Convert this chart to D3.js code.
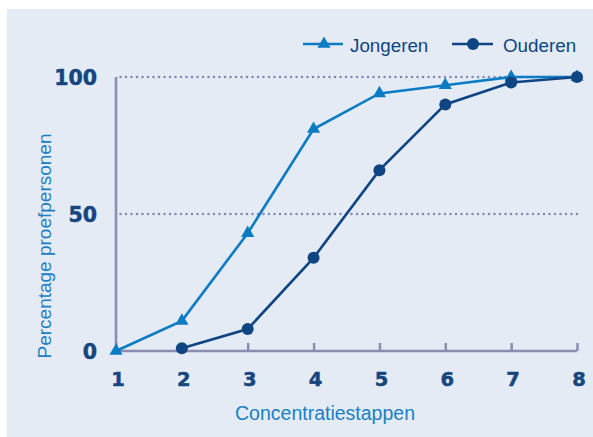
<!DOCTYPE html>
<html><head><meta charset="utf-8">
<script src="https://cdn.jsdelivr.net/npm/d3@7"></script>
<style>body{margin:0;background:#fff}svg{display:block}</style>
</head><body>
<svg id="c" width="593" height="437"></svg>
<script>
const steps = [1,2,3,4,5,6,7,8];
const jongeren = [0, 11, 43, 81, 94, 97, 100, 100];
const ouderenSteps = [2,3,4,5,6,7,8];
const ouderen = [1, 8, 34, 66, 90, 98, 100];
const yTicks = [0, 50, 100];
const gridValues = [50, 100];

const svg = d3.select('#c');
svg.append('rect').attr('x',7).attr('y',9).attr('width',586).attr('height',428).attr('fill','#e4ebf5');

const x = d3.scaleLinear().domain([1,8]).range([116,577]);
const y = d3.scaleLinear().domain([0,100]).range([351,77]);
const axisCol = '#8b8db0', tickCol = '#16467e', light = '#1a80c4';
const cJ = '#0b7cc3', cO = '#0f4582';
const sans = 'Liberation Sans, Arial, sans-serif';
const bold = 'DejaVu Sans, sans-serif';

// grid
svg.selectAll('.grid').data(gridValues).join('line')
  .attr('x1', x(1)+4.5).attr('x2', 578).attr('y1', d=>y(d)).attr('y2', d=>y(d))
  .attr('stroke', '#8587b0').attr('stroke-width',2.5).attr('stroke-dasharray','0,5.5').attr('stroke-linecap','round');

// x axis
const xAxis = d3.axisTop(x).tickValues(steps).tickSize(8).tickFormat('');
const gx = svg.append('g').attr('transform',`translate(0,${y(0)})`).call(xAxis);
gx.select('.domain').attr('stroke', axisCol).attr('stroke-width',2.6).attr('d',`M${x(1)},0H${x(8)}`);
gx.selectAll('.tick line').attr('stroke', axisCol).attr('stroke-width',2.5);

// y axis line
const yAxis = d3.axisLeft(y).tickValues(yTicks).tickSize(0).tickFormat('');
const gy = svg.append('g').attr('transform',`translate(${x(1)},0)`).call(yAxis);
gy.select('.domain').attr('stroke', axisCol).attr('stroke-width',2.6).attr('d',`M0,${y(100)}V${y(0)}`);

// tick labels
svg.selectAll('.xl').data(steps).join('text')
  .attr('x', d=>x(d)+2).attr('y', 386).attr('text-anchor','middle')
  .attr('font-family',bold).attr('font-weight','bold').attr('font-size',19.5)
  .attr('fill', tickCol).attr('stroke',tickCol).attr('stroke-width',0.5).text(d=>d);
svg.selectAll('.yl').data(yTicks).join('text')
  .attr('x', 97).attr('y', d=>y(d)+7.5).attr('text-anchor','end')
  .attr('font-family',bold).attr('font-weight','bold').attr('font-size',20.5)
  .attr('fill', tickCol).attr('stroke',tickCol).attr('stroke-width',0.5).text(d=>d);

// axis titles
svg.append('text').attr('x',325).attr('y',420).attr('text-anchor','middle')
  .attr('font-family',sans).attr('font-size',19.5).attr('fill',light)
  .text('Concentratiestappen');
svg.append('text').attr('transform','translate(51,246) rotate(-90)').attr('text-anchor','middle')
  .attr('font-family',sans).attr('font-size',19).attr('fill',light)
  .text('Percentage proefpersonen');

// lines
const line = d3.line().x(d=>x(d[0])).y(d=>y(d[1]));
const jData = steps.map((s,i)=>[s,jongeren[i]]);
const oData = ouderenSteps.map((s,i)=>[s,ouderen[i]]);
svg.append('path').attr('d', line(jData)).attr('fill','none').attr('stroke',cJ).attr('stroke-width',2.6);
svg.append('path').attr('d', line(oData)).attr('fill','none').attr('stroke',cO).attr('stroke-width',2.6);

const tri = d3.symbol().type(d3.symbolTriangle).size(75);
svg.selectAll('.tj').data(jData).join('path')
  .attr('d', tri).attr('transform', d=>`translate(${x(d[0])},${y(d[1])})`).attr('fill',cJ);
svg.selectAll('.co').data(oData).join('circle')
  .attr('cx', d=>x(d[0])).attr('cy', d=>y(d[1])).attr('r',6).attr('fill',cO);

// legend
const lg = svg.append('g');
lg.append('line').attr('x1',303).attr('x2',343).attr('y1',44).attr('y2',44).attr('stroke',cJ).attr('stroke-width',2.6);
lg.append('path').attr('d',tri).attr('transform','translate(324,44)').attr('fill',cJ);
lg.append('text').attr('x',350).attr('y',51.5).attr('font-family',sans).attr('font-size',18.8).attr('fill',cO).text('Jongeren');
lg.append('line').attr('x1',452).attr('x2',493).attr('y1',44).attr('y2',44).attr('stroke',cO).attr('stroke-width',2.6);
lg.append('circle').attr('cx',473).attr('cy',44).attr('r',6).attr('fill',cO);
lg.append('text').attr('x',503).attr('y',51.5).attr('font-family',sans).attr('font-size',18.8).attr('fill',cO).text('Ouderen');
</script>
</body></html>
